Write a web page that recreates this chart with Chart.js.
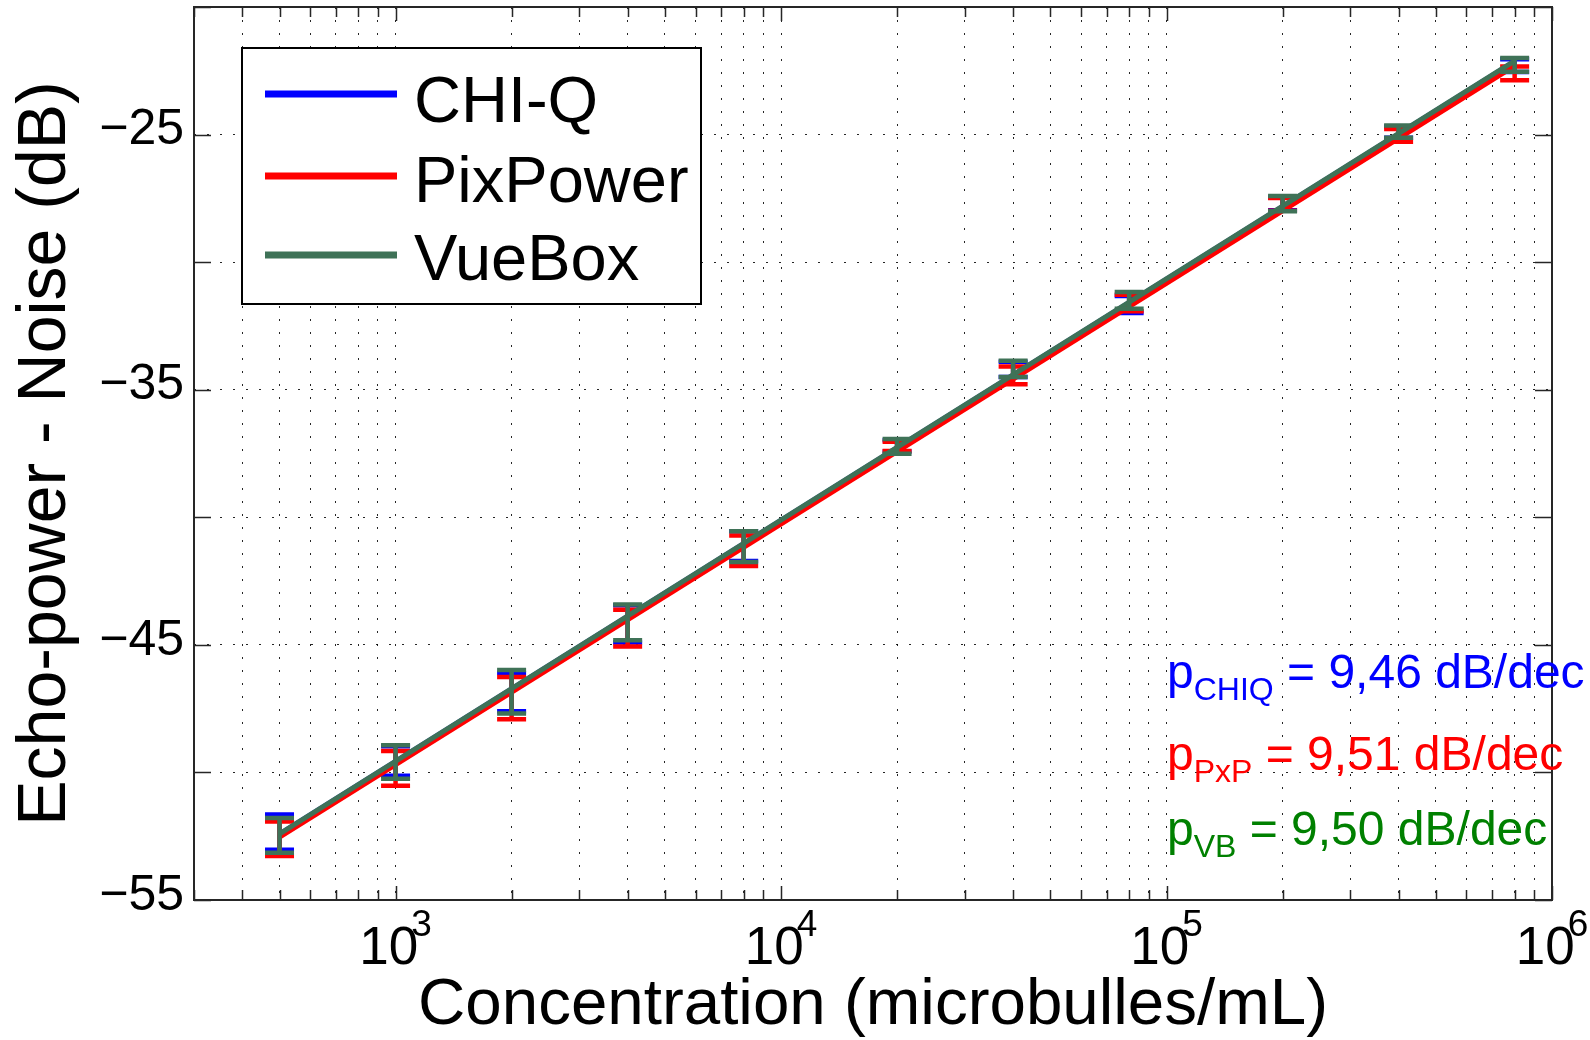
<!DOCTYPE html>
<html>
<head>
<meta charset="utf-8">
<script src="https://cdn.jsdelivr.net/npm/chart.js@4.4.1/dist/chart.umd.min.js"></script>
<style>
html, body { margin: 0; padding: 0; background: #ffffff; }
canvas { display: block; }
</style>
</head>
<body>
<canvas id="chart" width="1590" height="1040"></canvas>
<script>
// ---------------- data ----------------
const concentrations = [500, 1000, 2000, 4000, 8000, 20000, 40000, 80000, 200000, 400000, 800000];

const chiqMean = [-52.34, -49.55, -46.85, -44.18, -41.13, -37.20, -34.20, -31.66, -27.72, -24.90, -22.30];
const chiqStd  = [0.69, 0.58, 0.75, 0.73, 0.58, 0.22, 0.30, 0.33, 0.25, 0.22, 0.25];

const pxpMean  = [-52.60, -49.84, -47.09, -44.34, -41.31, -37.22, -34.44, -31.60, -27.74, -25.03, -22.60];
const pxpStd   = [0.68, 0.68, 0.83, 0.72, 0.60, 0.18, 0.35, 0.32, 0.25, 0.25, 0.27];

const vbMean   = [-52.47, -49.59, -46.84, -44.12, -41.15, -37.22, -34.18, -31.50, -27.71, -24.88, -22.27];
const vbStd    = [0.68, 0.66, 0.85, 0.70, 0.60, 0.29, 0.32, 0.33, 0.30, 0.24, 0.27];

// fitted regression lines, end points
const fitX     = [500, 800000];
const chiqFit  = [-52.42, -22.13];
const pxpFit   = [-52.54, -22.31];
const vbFit    = [-52.41, -22.11];

const seriesNames  = ['CHI-Q', 'PixPower', 'VueBox'];
const slopeSubs    = ['CHIQ', 'PxP', 'VB'];
const slopeValues  = ['9,46', '9,51', '9,50'];

const xMajorTicks     = [1000, 10000, 100000, 1000000];
const xMajorExponents = ['3', '4', '5', '6'];
const xDecades        = [100, 1000, 10000, 100000];
const xMantissas      = [1, 2, 3, 4, 5, 6, 7, 8, 9];
const yLabelledTicks  = [-55, -45, -35, -25];

const xTitle = 'Concentration (microbulles/mL)';
const yTitle = 'Echo-power - Noise (dB)';

// ---------------- styling ----------------
const FONT = '"Liberation Sans", Arial, Helvetica, sans-serif';
const COLORS = ['#0000ff', '#ff0000', '#3f7257'];
const TEXT_COLORS = ['#0000ff', '#ff0000', '#008000'];

const xGridValues = [];
xDecades.forEach(d => xMantissas.forEach(m => {
  const v = d * m;
  if (v >= 300 && v < 1000000) xGridValues.push(v);
}));
xGridValues.push(1000000);

function lineData(fit) {
  return fitX.map((x, i) => ({ x: x, y: fit[i] }));
}

const errorBarPlugin = {
  id: 'errorBars',
  afterDatasetDraw(chart, args) {
    const ds = chart.data.datasets[args.index];
    if (!ds.errMean) return;
    const xs = chart.scales.x, ys = chart.scales.y, ctx = chart.ctx;
    ctx.save();
    ctx.strokeStyle = ds.borderColor;
    ctx.lineWidth = 4.5;
    ctx.lineCap = 'butt';
    ds.errX.forEach((xv, i) => {
      const px = xs.getPixelForValue(xv);
      const top = ys.getPixelForValue(ds.errMean[i] + ds.errStd[i]);
      const bot = ys.getPixelForValue(ds.errMean[i] - ds.errStd[i]);
      ctx.beginPath();
      ctx.moveTo(px, top); ctx.lineTo(px, bot);
      ctx.moveTo(px - 14.5, top); ctx.lineTo(px + 14.5, top);
      ctx.moveTo(px - 14.5, bot); ctx.lineTo(px + 14.5, bot);
      ctx.stroke();
    });
    ctx.restore();
  }
};

const framePlugin = {
  id: 'frame',
  afterDraw(chart) {
    const ctx = chart.ctx, ca = chart.chartArea;
    const xs = chart.scales.x, ys = chart.scales.y;
    ctx.save();
    // box
    ctx.strokeStyle = '#262626';
    ctx.lineWidth = 2;
    ctx.strokeRect(ca.left, ca.top, ca.right - ca.left, ca.bottom - ca.top);
    // inward ticks
    ctx.lineWidth = 1.5;
    ctx.beginPath();
    xs.ticks.forEach(t => {
      const px = Math.round(xs.getPixelForValue(t.value)) + 0.5;
      const len = xMajorTicks.includes(t.value) ? 14 : 10;
      ctx.moveTo(px, ca.bottom); ctx.lineTo(px, ca.bottom - len);
      ctx.moveTo(px, ca.top); ctx.lineTo(px, ca.top + len);
    });
    ys.ticks.forEach(t => {
      const py = Math.round(ys.getPixelForValue(t.value)) + 0.5;
      ctx.moveTo(ca.left, py); ctx.lineTo(ca.left + 17, py);
      ctx.moveTo(ca.right, py); ctx.lineTo(ca.right - 17, py);
    });
    ctx.stroke();

    // x tick labels 10^n
    ctx.fillStyle = '#000';
    ctx.textAlign = 'left';
    ctx.textBaseline = 'alphabetic';
    xMajorTicks.forEach((v, i) => {
      const px = xs.getPixelForValue(v);
      ctx.font = '53px ' + FONT;
      const wb = ctx.measureText('10').width;
      ctx.font = '37px ' + FONT;
      const we = ctx.measureText(xMajorExponents[i]).width;
      const total = wb - 7 + we;
      const x0 = px - total / 2;
      ctx.font = '53px ' + FONT;
      ctx.fillText('10', x0, ca.bottom + 64);
      ctx.font = '37px ' + FONT;
      ctx.fillText(xMajorExponents[i], x0 + wb - 7, ca.bottom + 36);
    });

    // legend
    const lx = ca.left + 48, ly = ca.top + 41, lw = 459, lh = 256;
    ctx.fillStyle = '#fff';
    ctx.fillRect(lx, ly, lw, lh);
    ctx.strokeStyle = '#000';
    ctx.lineWidth = 2;
    ctx.strokeRect(lx, ly, lw, lh);
    const rowLine = [46, 128, 207];
    const rowBase = [74, 154, 232];
    chart.data.datasets.forEach((ds, i) => {
      ctx.strokeStyle = ds.borderColor;
      ctx.lineWidth = 7;
      ctx.beginPath();
      ctx.moveTo(lx + 23, ly + rowLine[i]);
      ctx.lineTo(lx + 155, ly + rowLine[i]);
      ctx.stroke();
      ctx.fillStyle = '#000';
      ctx.font = '65px ' + FONT;
      ctx.fillText(ds.label, lx + 172, ly + rowBase[i]);
    });

    // slope annotations
    const ax = ca.left + 973;
    const aBase = [688, 770, 845];
    slopeSubs.forEach((sub, i) => {
      ctx.fillStyle = TEXT_COLORS[i];
      let x = ax;
      ctx.font = '48px ' + FONT;
      ctx.fillText('p', x, aBase[i]);
      x += ctx.measureText('p').width;
      ctx.font = '32px ' + FONT;
      ctx.fillText(sub, x, aBase[i] + 12);
      x += ctx.measureText(sub).width;
      ctx.font = '48px ' + FONT;
      ctx.fillText(' = ' + slopeValues[i] + ' dB/dec', x, aBase[i]);
    });
    ctx.restore();
  }
};

const gridCfg = { color: 'rgba(0,0,0,0.85)', lineWidth: 1, drawTicks: false };
const borderCfg = { display: false, dash: [2, 11] };

new Chart(document.getElementById('chart'), {
  type: 'line',
  data: {
    datasets: [
      { label: seriesNames[0], data: lineData(chiqFit), borderColor: COLORS[0], backgroundColor: COLORS[0],
        borderWidth: 5, pointRadius: 0, fill: false, order: 3,
        errX: concentrations, errMean: chiqMean, errStd: chiqStd },
      { label: seriesNames[1], data: lineData(pxpFit), borderColor: COLORS[1], backgroundColor: COLORS[1],
        borderWidth: 5, pointRadius: 0, fill: false, order: 2,
        errX: concentrations, errMean: pxpMean, errStd: pxpStd },
      { label: seriesNames[2], data: lineData(vbFit), borderColor: COLORS[2], backgroundColor: COLORS[2],
        borderWidth: 5, pointRadius: 0, fill: false, order: 1,
        errX: concentrations, errMean: vbMean, errStd: vbStd }
    ]
  },
  options: {
    responsive: false,
    animation: false,
    devicePixelRatio: 1,
    layout: { padding: { top: 7, right: 38, left: 0, bottom: 0 } },
    plugins: { legend: { display: false }, tooltip: { enabled: false } },
    scales: {
      x: {
        type: 'logarithmic',
        position: 'bottom',
        min: 300,
        max: 1000000,
        afterBuildTicks: s => { s.ticks = xGridValues.map(v => ({ value: v })); },
        afterFit: s => { s.height = 140; s.paddingLeft = 0; s.paddingRight = 0; },
        ticks: { display: false },
        grid: gridCfg,
        border: borderCfg,
        title: { display: true, text: xTitle, color: '#000',
                 font: { family: FONT, size: 65.5, lineHeight: 1 }, padding: { top: 0, bottom: 1 } }
      },
      y: {
        type: 'linear',
        position: 'left',
        min: -55,
        max: -20,
        afterFit: s => { s.width = 194; s.paddingTop = 0; s.paddingBottom = 0; },
        ticks: {
          stepSize: 5,
          autoSkip: false,
          padding: 10,
          labelOffset: -4,
          color: '#000',
          font: { family: FONT, size: 50 },
          callback: v => yLabelledTicks.includes(v) ? '\u2212' + Math.abs(v) : ''
        },
        grid: gridCfg,
        border: borderCfg,
        title: { display: true, text: yTitle, color: '#000',
                 font: { family: FONT, size: 68, lineHeight: 1 }, padding: { top: 12, bottom: 0 } }
      }
    }
  },
  plugins: [errorBarPlugin, framePlugin]
});
</script>
</body>
</html>
